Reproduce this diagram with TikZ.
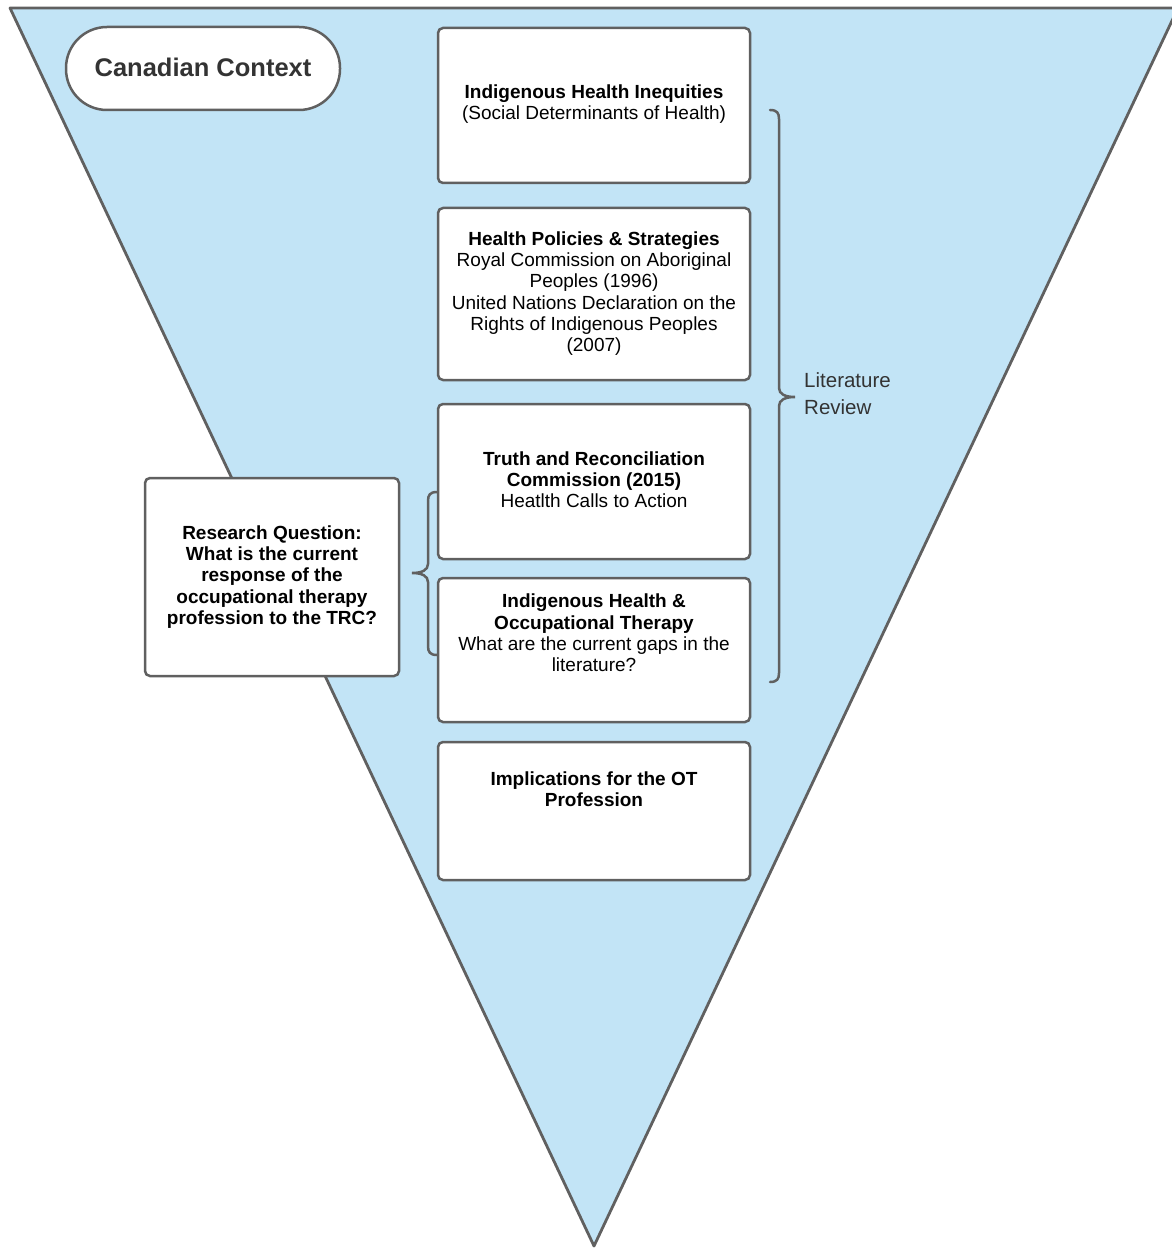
\documentclass[tikz,border=0pt]{standalone}
\usepackage{fontspec}
\setmainfont{Liberation Sans}
\definecolor{funnelblue}{HTML}{C2E4F6}
\definecolor{edgegrey}{HTML}{606060}
\definecolor{darktext}{HTML}{333333}
\tikzset{
  funnel/.style={draw=edgegrey, fill=funnelblue, line width=2.8pt, line join=round},
  stagebox/.style={draw=edgegrey, fill=white, line width=2.5pt, rounded corners=5pt, inner sep=0pt},
  boxtext/.style={align=center, text=black, inner sep=0pt, font=\fontsize{19}{21.2}\selectfont},
  bracepath/.style={draw=edgegrey, line width=2.5pt, line cap=round}
}
\begin{document}
\begin{tikzpicture}[x=1pt,y=-1pt]
\useasboundingbox (0,0) rectangle (1171,1249);
% funnel
\draw[funnel] (10,8) -- (1178,8) -- (594,1246) -- cycle;
% Canadian context
\node[stagebox, rounded corners=41pt, minimum width=274pt, minimum height=83pt] (cc) at (203,68.5) {};
\node[text=darktext, inner sep=0pt, font=\fontsize{25.5}{28}\selectfont\bfseries] (cctext) at (203,67) {Canadian Context};
% stage boxes
\node[stagebox, minimum width=312pt, minimum height=155pt] (b1) at (594,105.5) {};
\node[stagebox, minimum width=312pt, minimum height=172pt] (b2) at (594,294) {};
\node[stagebox, minimum width=312pt, minimum height=155pt] (b3) at (594,481.5) {};
\node[stagebox, minimum width=312pt, minimum height=144pt] (b4) at (594,650) {};
\node[stagebox, minimum width=312pt, minimum height=138pt] (b5) at (594,811) {};
\node[stagebox, minimum width=254pt, minimum height=198pt] (rq) at (272,577) {};
% texts
\node[boxtext] (t1) at (594,104) {\textbf{Indigenous Health Inequities}\\(Social Determinants of Health)};
\node[boxtext] (t2) at (594,293.5) {\textbf{Health Policies \& Strategies}\\Royal Commission on Aboriginal\\Peoples (1996)\\United Nations Declaration on the\\Rights of Indigenous Peoples\\(2007)};
\node[boxtext] (t3) at (594,480) {\textbf{Truth and Reconciliation}\\\textbf{Commission (2015)}\\Heatlth Calls to Action};
\node[boxtext] (t4) at (594,633) {\textbf{Indigenous Health \&}\\\textbf{Occupational Therapy}\\What are the current gaps in the\\literature?};
\node[boxtext] (t5) at (594,789.5) {\textbf{Implications for the OT}\\\textbf{Profession}};
\node[boxtext, font=\fontsize{19}{21.3}\selectfont\bfseries] (rqtext) at (272,577) {Research Question:\\What is the current\\response of the\\occupational therapy\\profession to the TRC?};
% right brace
\coordinate (rbtop) at (770,110);
\coordinate (rbtip) at (795,397);
\coordinate (rbbot) at (770,682);
\draw[bracepath] (rbtop) .. controls (777,110) and (779,113) .. (779,119) -- (779,388)
  .. controls (779,394) and (785,397) .. (rbtip)
  .. controls (785,397) and (779,400) .. (779,406) -- (779,673)
  .. controls (779,679) and (777,682) .. (rbbot);
\node[anchor=west, align=left, text=darktext, inner sep=0pt, font=\fontsize{20.5}{27}\selectfont] (lit) at (804,393.5) {Literature\\Review};
% left brace
\coordinate (lbtop) at (437,492);
\coordinate (lbtip) at (412,573);
\coordinate (lbbot) at (437,655);
\draw[bracepath] (lbtop) .. controls (430,492) and (428,495) .. (428,501) -- (428,564)
  .. controls (428,570) and (422,573) .. (lbtip)
  .. controls (422,573) and (428,576) .. (428,582) -- (428,646)
  .. controls (428,652) and (430,655) .. (lbbot);
\end{tikzpicture}
\end{document}
